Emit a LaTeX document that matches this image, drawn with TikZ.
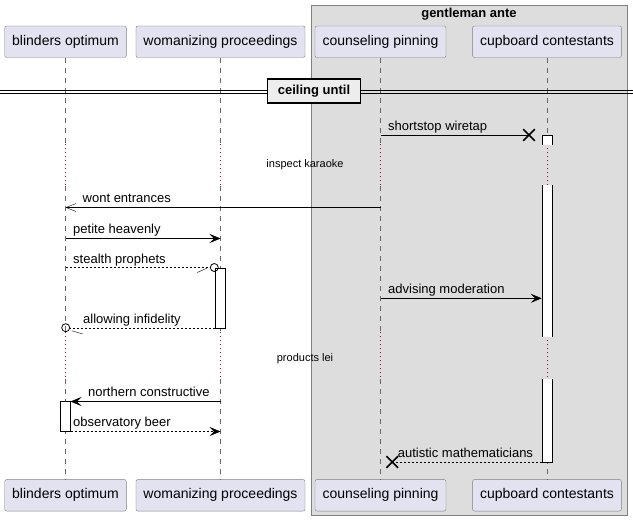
\documentclass[tikz,border=0pt]{standalone}
\usepackage{fontspec}
\setmainfont{Liberation Sans}
\usepackage{tikz}
\usetikzlibrary{arrows.meta,shapes.misc}
\definecolor{partfill}{HTML}{E2E2F0}
\definecolor{grpfill}{HTML}{DDDDDD}
\definecolor{delayred}{HTML}{A80036}

\begin{document}
\begin{tikzpicture}[x=1pt,y=-1pt,%
	participant/.style={draw=black!50,fill=partfill,rounded corners=2pt,minimum height=31.5pt,inner xsep=7.5pt,font=\fontsize{14}{16}\selectfont},
	lifeline/.style={black!60,dash pattern=on 5pt off 5pt},
	delayline/.style={delayred,line width=0.8pt,dash pattern=on 1pt off 3pt},
	activation/.style={draw,fill=white},
	msg/.style={font=\fontsize{13}{15}\selectfont,anchor=base west,inner sep=0pt},
	delaytext/.style={font=\fontsize{11}{13}\selectfont,inner sep=0pt},
	sync/.style={-{Stealth[length=11pt,width=9pt,inset=4.5pt]}},
	open/.style={-{Straight Barb[length=10pt,width=8pt]}},
	reply/.style={dash pattern=on 2pt off 2pt},
	killx/.style={cross out,draw,line width=1.6pt,minimum size=10pt,inner sep=0pt},
	lostend/.style={circle,draw,line width=0.8pt,inner sep=0pt,minimum size=8pt}]
	\useasboundingbox (0,0) rectangle (633,520);
	\draw[black!50,fill=grpfill] (311,5) rectangle (627,515);
	\node[font=\bfseries\fontsize{13}{15}\selectfont] (grp) at (469,14.5) {gentleman ante};
	\foreach \n/\x/\t in {bo/65.5/blinders optimum,wp/220.5/womanizing proceedings,cp/380.5/counseling pinning,cc/547/cupboard contestants}{
		\node[participant] (\n) at (\x,41.7) {\t};
		\node[participant] (\n2) at (\x,495.3) {\t};
		\draw[lifeline] (\n.south) -- (\n.south |- 0,144);
		\draw[delayline] (\n.south |- 0,144) -- (\n.south |- 0,186);
		\draw[lifeline] (\n.south |- 0,186) -- (\n.south |- 0,332);
		\draw[delayline] (\n.south |- 0,332) -- (\n.south |- 0,379);
		\draw[lifeline] (\n.south |- 0,379) -- (\n2.north);
	}
	\draw (0,90) -- (633,90);
	\draw (0,93) -- (633,93);
	\node[draw,line width=1.5pt,fill=black!7,font=\bfseries\fontsize{13}{15}\selectfont,minimum width=93pt,minimum height=24pt] (div) at (314,91) {ceiling until};
	\node[delaytext] (d1) at (305,165) {inspect karaoke};
	\node[delaytext] (d2) at (305,358.5) {products lei};
	\fill[white] (542,135) rectangle (552,145);
	\draw (542,145) |- (552,135) -- (552,145);
	\fill[white] (542,185) rectangle (552,337);
	\draw (542,185) -- (542,337) (552,185) -- (552,337);
	\fill[white] (542,379) rectangle (552,462);
	\draw (542,379) |- (552,462) -- (552,379);
	\draw[activation] (215,268) rectangle (225,328.5) coordinate (wpact);
	\draw[activation] (60,401.5) coordinate (boact) rectangle (70.5,431.5);
	\node[killx] (k1) at (529,135) {};
	\draw (cp |- k1) -- (k1.center);
	\node[msg] (m1) at (388,130) {shortstop wiretap};
	\draw[open] (cp |- 0,207.5) coordinate (w1) -- (bo |- w1);
	\node[msg] (m2) at (82.5,202.5) {wont entrances};
	\draw[sync] (bo |- 0,238.5) coordinate (p1) -- (wp |- p1);
	\node[msg] (m3) at (73,233.5) {petite heavenly};
	\node[lostend] (c1) at (214.3,267.5) {};
	\draw[reply] (bo |- c1) -- (c1.west);
	\draw ([shift={(-17,5)}]c1.center) -- ([shift={(-7.5,0.7)}]c1.center);
	\node[msg] (m4) at (73,263) {stealth prophets};
	\draw[sync] (cp |- 0,298.3) coordinate (a1) -- (541.7,298.3);
	\node[msg] (m5) at (388,293.3) {advising moderation};
	\node[lostend] (c2) at (65.7,327.7) {};
	\draw[reply] (215,328.5) -- (c2.east |- 0,328.5);
	\draw ([shift={(6,3)}]c2.center) -- ([shift={(17,6.3)}]c2.center);
	\node[msg] (m6) at (83,323.5) {allowing infidelity};
	\draw[sync] (wp |- 0,401.5) coordinate (n1) -- (70.5,401.5);
	\node[msg] (m7) at (88,396.5) {northern constructive};
	\draw[sync,reply] (70.5,431.5) -- (wp |- 0,431.5);
	\node[msg] (m8) at (73,426.5) {observatory beer};
	\node[killx] (k2) at (392.3,462) {};
	\draw[reply] (542,462) -- (k2.center);
	\node[msg] (m9) at (397.7,457) {autistic mathematicians};
\end{tikzpicture}
\end{document}
